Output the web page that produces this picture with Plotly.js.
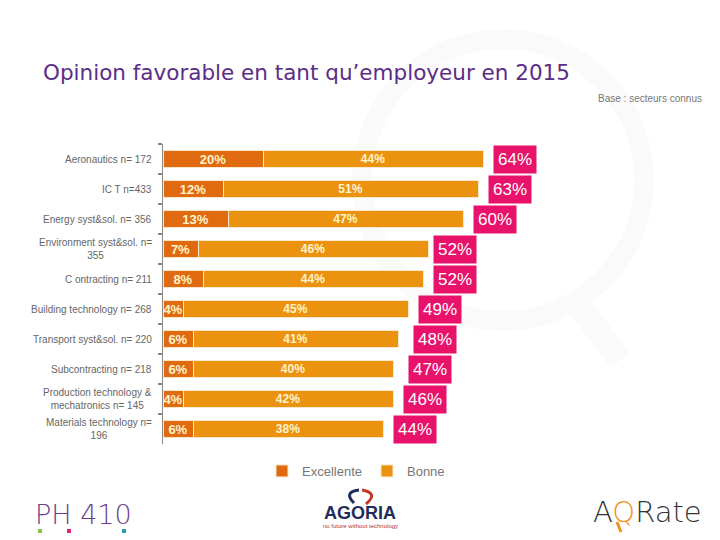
<!DOCTYPE html>
<html>
<head>
<meta charset="utf-8">
<script src="https://cdn.plot.ly/plotly-3.0.1.min.js"></script>
<style>html,body{margin:0;padding:0;background:#fff;}#chart{width:720px;height:540px;}</style>
</head>
<body>
<div id="chart"></div>
<script>
// ---- data ----
const sectors = ["Aeronautics", "ICT", "Energy syst&sol.", "Environment syst&sol.", "Contracting",
  "Building technology", "Transport syst&sol.", "Subcontracting", "Production technology &", "Materials technology"];
const sectorLabels = ["Aeronautics n= 172", "IC T n=433", "Energy syst&sol. n= 356", "Environment syst&sol. n=<br>355",
  "C ontracting n= 211", "Building technology n= 268", "Transport syst&sol. n= 220", "Subcontracting n= 218",
  "Production technology &<br>mechatronics n= 145", "Materials technology n=<br>196"];
const excellente = [20, 12, 13, 7, 8, 4, 6, 6, 4, 6];
const bonne = [44, 51, 47, 46, 44, 45, 41, 40, 42, 38];
const totals = [64, 63, 60, 52, 52, 49, 48, 47, 46, 44];
const seriesNames = ["Excellente", "Bonne"];

// ---- layout helpers (pixel -> paper) ----
const M = {l: 163, r: 57, t: 144, b: 96};
const W = 720, H = 540;
const pw = W - M.l - M.r, ph = H - M.t - M.b;
const px = x => (x - M.l) / pw;
const py = y => (H - M.b - y) / ph;

const cDark = "#df6a0f", cLight = "#eb9311", cPink = "#e8126b";
const txtCream = "#fff3cc";
const wm = "#fafafa";

const traces = [
  {type: "bar", orientation: "h", name: seriesNames[0], y: sectors, x: excellente,
   marker: {color: cDark, line: {color: "#fbe8c8", width: 1}},
   texttemplate: "%{x}%", textposition: "inside", insidetextanchor: "middle", textangle: 0,
   constraintext: "none",
   textfont: {family: "Liberation Sans, Arial, sans-serif", size: 13, color: txtCream, weight: "bold"},
   hoverinfo: "skip"},
  {type: "bar", orientation: "h", name: seriesNames[1], y: sectors, x: bonne,
   marker: {color: cLight, line: {color: "#fbe8c8", width: 1}},
   texttemplate: "%{x}%", textposition: "inside", insidetextanchor: "middle", textangle: 0,
   constraintext: "none",
   textfont: {family: "Liberation Sans, Arial, sans-serif", size: 12, color: txtCream, weight: "bold"},
   hoverinfo: "skip"}
];

const annotations = [];
// category labels
sectors.forEach((s, i) => {
  annotations.push({xref: "paper", yref: "y", x: 0, y: s, xanchor: "right", yanchor: "middle",
    xshift: -9, text: sectorLabels[i], showarrow: false, align: "center",
    font: {family: "Liberation Sans, Arial, sans-serif", size: 10, color: "#666"}});
});
// totals boxes
sectors.forEach((s, i) => {
  annotations.push({xref: "x", yref: "y", x: totals[i], y: s, xanchor: "left", yanchor: "middle",
    xshift: 10, text: totals[i] + "%", showarrow: false, bgcolor: cPink, borderpad: 4,
    font: {family: "Liberation Sans, Arial, sans-serif", size: 17, color: "#ffffff"}});
});
// base note
annotations.push({xref: "paper", yref: "paper", x: px(704), y: py(98), xanchor: "right", yanchor: "middle",
  text: "Base : secteurs connus", showarrow: false,
  font: {family: "Liberation Sans, Arial, sans-serif", size: 10, color: "#777"}});
// logos
annotations.push({xref: "paper", yref: "paper", x: px(83), y: py(514), xanchor: "center", yanchor: "middle",
  text: "PH 410", showarrow: false,
  font: {family: "DejaVu Sans, sans-serif", size: 27, color: "#6b3f8e", weight: 200}});
annotations.push({xref: "paper", yref: "paper", x: px(360), y: py(513), xanchor: "center", yanchor: "middle",
  text: "AGORIA", showarrow: false,
  font: {family: "Liberation Sans, Arial, sans-serif", size: 18, color: "#1f2d5a", weight: "bold"}});
annotations.push({xref: "paper", yref: "paper", x: px(360), y: py(526), xanchor: "center", yanchor: "middle",
  text: "no future without technology", showarrow: false,
  font: {family: "Liberation Sans, Arial, sans-serif", size: 6, color: "#b5322e"}});
annotations.push({xref: "paper", yref: "paper", x: px(647), y: py(512), xanchor: "center", yanchor: "middle",
  text: "A<span style='color:#f0941e'>Q</span>Rate", showarrow: false,
  font: {family: "DejaVu Sans, sans-serif", size: 29, color: "#333", weight: 200}});

const shapes = [
  // watermark ring
  {type: "circle", xref: "paper", yref: "paper", layer: "below",
   x0: px(362), x1: px(644), y0: py(321), y1: py(39),
   line: {color: wm, width: 20}, fillcolor: "rgba(0,0,0,0)"},
  {type: "line", xref: "paper", yref: "paper", layer: "below",
   x0: px(575), y0: py(300), x1: px(620), y1: py(360),
   line: {color: wm, width: 24}},
  // PH 410 colour dots
  {type: "rect", xref: "paper", yref: "paper", x0: px(38), x1: px(42), y0: py(533), y1: py(529),
   fillcolor: "#8bc34a", line: {width: 0}},
  {type: "rect", xref: "paper", yref: "paper", x0: px(67), x1: px(71), y0: py(533), y1: py(529),
   fillcolor: "#e0207a", line: {width: 0}},
  {type: "rect", xref: "paper", yref: "paper", x0: px(122), x1: px(126), y0: py(533), y1: py(529),
   fillcolor: "#2a9ab0", line: {width: 0}},
  // Agoria swoosh
  {type: "path", xref: "paper", yref: "paper",
   path: `M ${px(354)} ${py(503)} Q ${px(343)} ${py(492)} ${px(359)} ${py(490)}`,
   line: {color: "#1f2d5a", width: 3}},
  {type: "path", xref: "paper", yref: "paper",
   path: `M ${px(362)} ${py(490)} Q ${px(379)} ${py(493)} ${px(366)} ${py(504)}`,
   line: {color: "#c0392b", width: 3}},
  // AQRate Q handle
  {type: "line", xref: "paper", yref: "paper", x0: px(617), y0: py(522), x1: px(621), y1: py(532),
   line: {color: "#f0941e", width: 3}}
];

const layout = {
  width: W, height: H,
  margin: M,
  paper_bgcolor: "#ffffff", plot_bgcolor: "rgba(0,0,0,0)",
  barmode: "stack", bargap: 0.43,
  showlegend: true,
  title: {text: "Opinion favorable en tant qu’employeur en 2015",
    xref: "container", yref: "container", x: 43 / W, xanchor: "left", y: 1 - 72 / H, yanchor: "middle",
    font: {family: "DejaVu Sans, sans-serif", size: 21.5, color: "#5c2d87"}},
  xaxis: {range: [0, 100], visible: false, fixedrange: true},
  yaxis: {type: "category", autorange: "reversed", showticklabels: false, showgrid: false, zeroline: false,
    showline: true, linecolor: "#888", linewidth: 1.5, ticks: "outside", tickson: "boundaries",
    ticklen: 4, tickcolor: "#888", tickwidth: 1.5},
  legend: {orientation: "h", traceorder: "normal", xref: "paper", yref: "paper", x: px(356), xanchor: "center",
    y: py(456), yanchor: "top",
    font: {family: "Liberation Sans, Arial, sans-serif", size: 13, color: "#777"}, itemwidth: 30,
    bgcolor: "rgba(0,0,0,0)"},
  annotations: annotations,
  shapes: shapes
};

Plotly.newPlot("chart", traces, layout, {displayModeBar: false, staticPlot: true});
</script>
</body>
</html>
